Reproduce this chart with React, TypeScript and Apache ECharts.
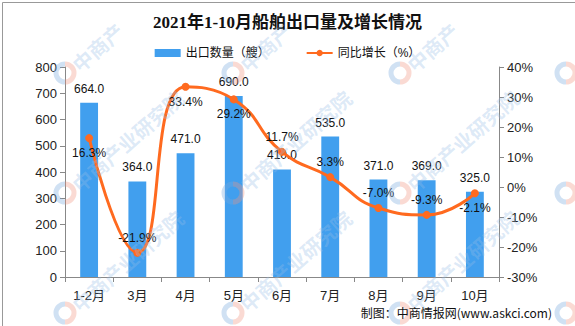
import React, { useEffect, useRef } from "react";
import * as echarts from "echarts";

const categories = ["1-2月", "3月", "4月", "5月", "6月", "7月", "8月", "9月", "10月"];
const exportCounts = [664, 364, 471, 690, 410, 535, 371, 369, 325];
const growthRates = [16.3, -21.9, 33.4, 29.2, 11.7, 3.3, -7.0, -9.3, -2.1];
const growthLabelSide = ["bottom", "top", "bottom", "bottom", "top", "top", "top", "top", "bottom"];

const title = "2021年1-10月船舶出口量及增长情况";
const source = "制图：中商情报网(www.askci.com)";

export default function App() {
  const ref = useRef<HTMLDivElement>(null);
  useEffect(() => {
    if (!ref.current) return;
    const chart = echarts.init(ref.current, undefined, { renderer: "svg" });
    const font = "'Liberation Sans', 'Noto Sans CJK SC', sans-serif";

    const wm: any[] = [];
    const cols = [65, 233, 400, 566];
    const rows = [73, 193, 313];
    cols.forEach((cx, ci) => {
      rows.forEach((cy, ri) => {
        wm.push({
          type: "arc",
          shape: { cx, cy, r: 9, startAngle: Math.PI * 0.5, endAngle: Math.PI * 1.5 },
          style: { stroke: "rgba(120,170,220,0.35)", fill: "none", lineWidth: 5 },
          silent: true,
          z: 100,
        });
        wm.push({
          type: "arc",
          shape: { cx, cy, r: 9, startAngle: -Math.PI * 0.5, endAngle: Math.PI * 0.5 },
          style: { stroke: "rgba(240,150,130,0.35)", fill: "none", lineWidth: 5 },
          silent: true,
          z: 100,
        });
        if (ci < cols.length - 1) {
          wm.push({
            type: "text",
            x: cx + 10,
            y: cy - 6,
            rotation: 0.72,
            style: {
              text: ri === 0 ? "中商产" : "中商产业研究院",
              fill: "rgba(150,190,230,0.33)",
              font: "bold 20px 'Noto Sans CJK SC'",
              textAlign: "left",
              textVerticalAlign: "middle",
            },
            silent: true,
            z: 100,
          });
        }
      });
    });

    chart.setOption({
      animation: false,
      backgroundColor: "#fff",
      title: {
        text: title,
        left: "center",
        top: 9,
        textStyle: {
          fontSize: 17,
          fontWeight: "bold",
          color: "#111",
          fontFamily: "'Liberation Serif', 'Noto Sans CJK SC', serif",
        },
      },
      legend: {
        top: 42,
        left: "center",
        itemGap: 36,
        itemWidth: 26,
        itemHeight: 8,
        textStyle: { fontSize: 12, color: "#111", fontFamily: font },
        data: [
          { name: "出口数量（艘）", icon: "rect" },
          { name: "同比增长（%）" },
        ],
      },
      grid: { left: 65, right: 76, top: 67, bottom: 49, containLabel: false },
      xAxis: {
        type: "category",
        data: categories,
        axisLine: { lineStyle: { color: "#888" } },
        axisTick: { show: true, alignWithLabel: false, lineStyle: { color: "#888" } },
        axisLabel: { color: "#222", fontSize: 13, margin: 12, fontFamily: font },
      },
      yAxis: [
        {
          type: "value",
          min: 0,
          max: 800,
          interval: 100,
          axisLine: { show: true, lineStyle: { color: "#888" } },
          axisTick: { show: true, lineStyle: { color: "#888" } },
          splitLine: { show: false },
          axisLabel: { color: "#222", fontSize: 13, margin: 8, fontFamily: font },
        },
        {
          type: "value",
          min: -30,
          max: 40,
          interval: 10,
          axisLine: { show: true, lineStyle: { color: "#888" } },
          axisTick: { show: true, lineStyle: { color: "#888" } },
          splitLine: { show: false },
          axisLabel: { color: "#222", fontSize: 13, margin: 8, formatter: "{value}%", fontFamily: font },
        },
      ],
      series: [
        {
          name: "出口数量（艘）",
          type: "bar",
          data: exportCounts,
          barWidth: "37%",
          itemStyle: { color: "#419FEE" },
          label: {
            show: true,
            position: "top",
            distance: 8,
            color: "#111",
            fontSize: 12,
            fontFamily: font,
            formatter: (p: any) => Number(p.value).toFixed(1),
          },
        },
        {
          name: "同比增长（%）",
          type: "line",
          yAxisIndex: 1,
          smooth: 0.5,
          data: growthRates.map((v, i) => ({
            value: v,
            label: { position: growthLabelSide[i] },
          })),
          symbol: "circle",
          symbolSize: 8,
          lineStyle: { color: "#FF6A1F", width: 3 },
          itemStyle: { color: "#FF6A1F" },
          label: {
            show: true,
            distance: 5,
            color: "#111",
            fontSize: 12,
            fontFamily: font,
            formatter: (p: any) => Number(p.value).toFixed(1) + "%",
          },
          z: 5,
        },
      ],
      graphic: [
        ...wm,
        {
          type: "text",
          right: 23,
          top: 306,
          style: {
            text: source,
            fill: "#111",
            font: "12px 'Noto Sans CJK SC', sans-serif",
          },
          z: 110,
        },
        {
          type: "rect",
          left: 0,
          top: 0,
          shape: { x: 0.5, y: 0.5, width: 574, height: 325 },
          style: { fill: "none", stroke: "#999", lineWidth: 1 },
          silent: true,
          z: 120,
        },
      ],
    });
    return () => chart.dispose();
  }, []);
  return (
    <div
      ref={ref}
      style={{ position: "absolute", left: 0, top: 0, width: 575, height: 326 }}
    />
  );
}
